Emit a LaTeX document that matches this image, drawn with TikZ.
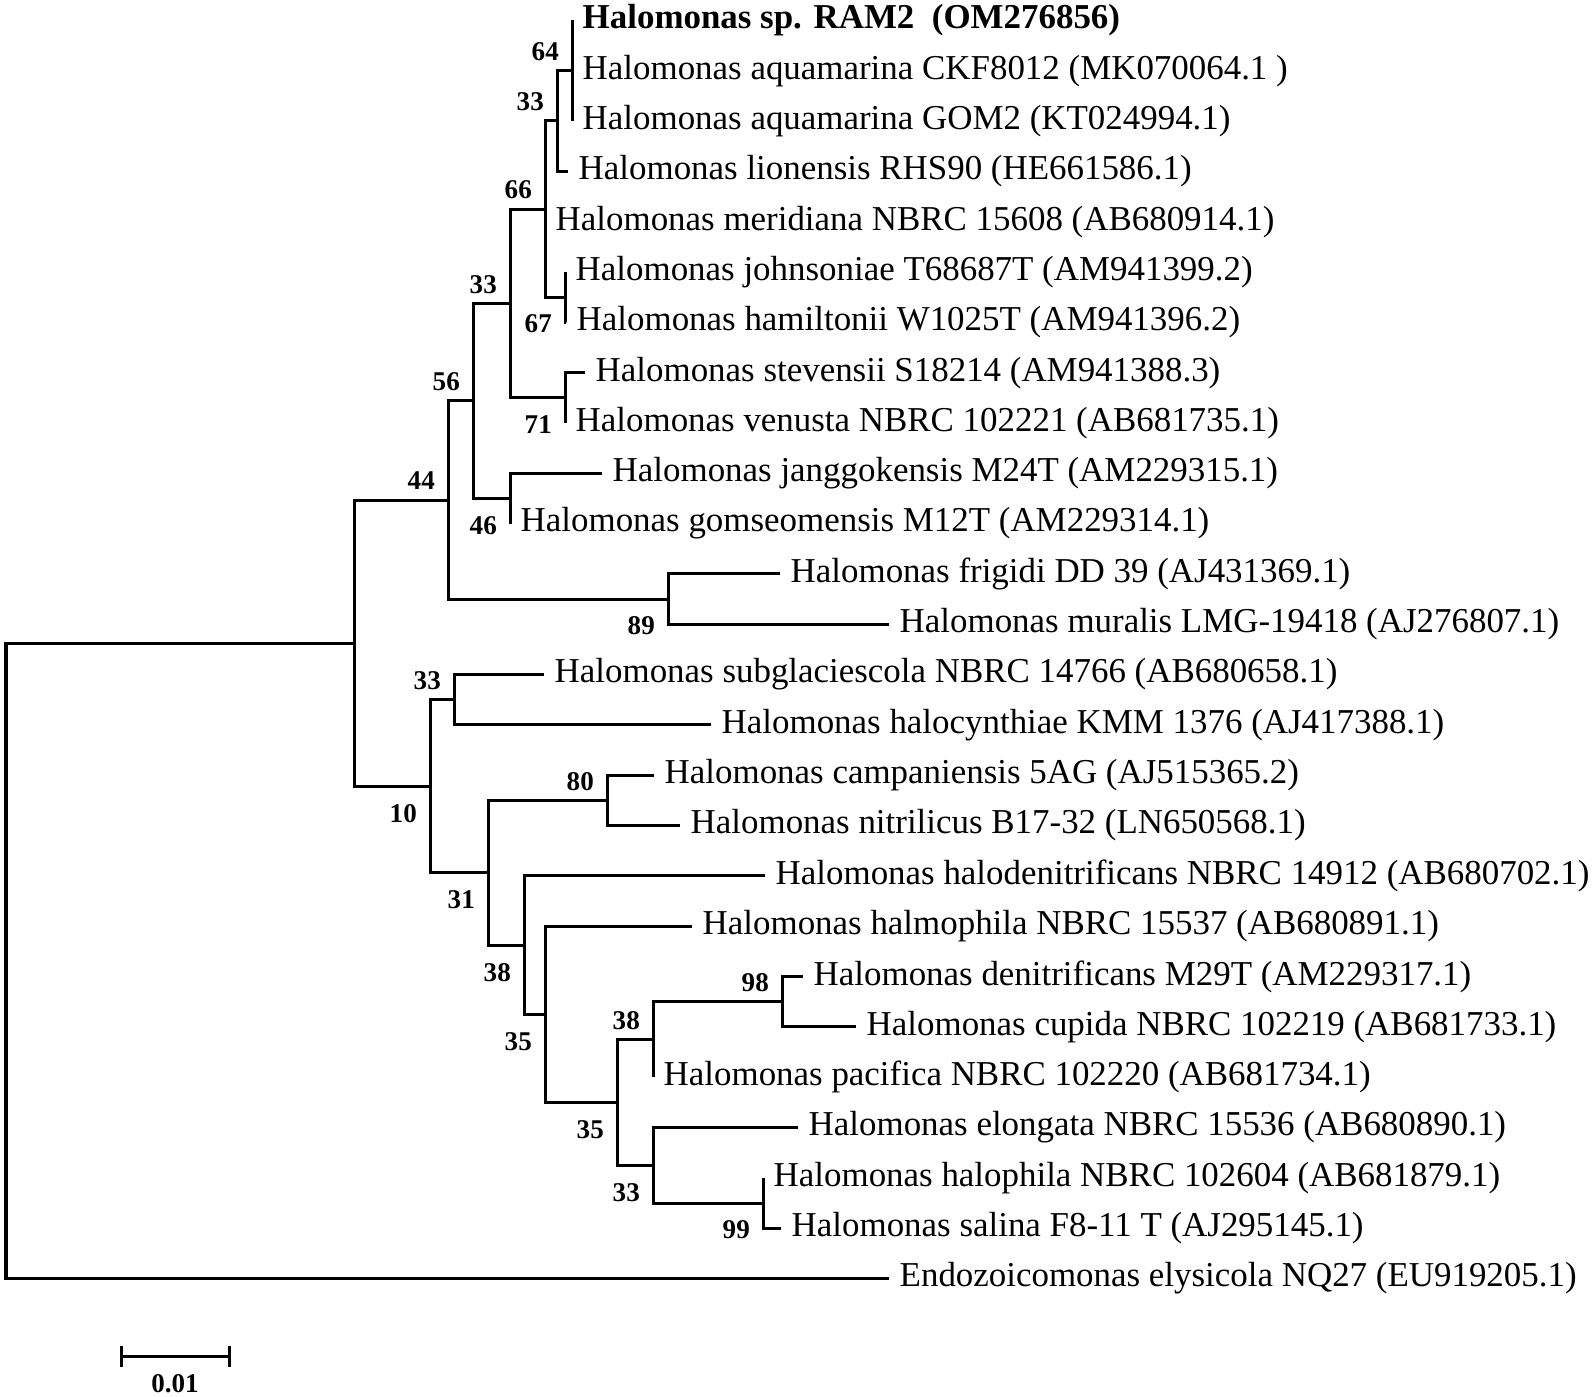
\documentclass[tikz,border=0pt]{standalone}
\usepackage{fontspec}
\setmainfont{Liberation Serif}
\usetikzlibrary{positioning}

\begin{document}
\begin{tikzpicture}[x=0.01cm,y=-0.503cm,
  ast/.style={line width=0.03cm},
  leaf/.style={anchor=west,inner xsep=0.1cm,inner ysep=0pt,font=\fontsize{9.93}{12}\selectfont},
  bslabel/.style={inner sep=0pt,font=\fontsize{7.7}{9}\selectfont\bfseries},
  bsup/.style={bslabel,anchor=east,xshift=-0.125cm,yshift=0.19cm},
  bsdown/.style={bslabel,anchor=east,xshift=-0.125cm,yshift=-0.27cm}]

% Rahmen
\useasboundingbox (0,-0.4036) rectangle (1593,27.35);

% ------------------- Blaetter -------------------
\foreach \n/\tip/\txt [count=\i from 0] in {
  ram2/572/{\bfseries Halomonas sp. RAM2\ \ (OM276856)},
  ckf/572/Halomonas aquamarina CKF8012 (MK070064.1 ),
  gom/572/Halomonas aquamarina GOM2 (KT024994.1),
  lion/568/Halomonas lionensis RHS90 (HE661586.1),
  meri/545/Halomonas meridiana NBRC 15608 (AB680914.1),
  john/565/Halomonas johnsoniae T68687T (AM941399.2),
  hami/566/Halomonas hamiltonii W1025T (AM941396.2),
  stev/585/Halomonas stevensii S18214 (AM941388.3),
  venu/565/Halomonas venusta NBRC 102221 (AB681735.1),
  jang/602/Halomonas janggokensis M24T (AM229315.1),
  goms/510/Halomonas gomseomensis M12T (AM229314.1),
  frig/780/Halomonas frigidi DD 39 (AJ431369.1),
  mura/889/Halomonas muralis LMG-19418 (AJ276807.1),
  subg/544/Halomonas subglaciescola NBRC 14766 (AB680658.1),
  halc/711/Halomonas halocynthiae KMM 1376 (AJ417388.1),
  camp/654/Halomonas campaniensis 5AG (AJ515365.2),
  nitr/680/Halomonas nitrilicus B17-32 (LN650568.1),
  hden/765/Halomonas halodenitrificans NBRC 14912 (AB680702.1),
  halm/692/Halomonas halmophila NBRC 15537 (AB680891.1),
  deni/803/Halomonas denitrificans M29T (AM229317.1),
  cupi/856/Halomonas cupida NBRC 102219 (AB681733.1),
  paci/653/Halomonas pacifica NBRC 102220 (AB681734.1),
  elon/798/Halomonas elongata NBRC 15536 (AB680890.1),
  haph/763/Halomonas halophila NBRC 102604 (AB681879.1),
  sali/781/Halomonas salina F8-11 T (AJ295145.1),
  endo/889/Endozoicomonas elysicola NQ27 (EU919205.1)}
  \node[leaf] (\n) at (\tip,\i) {\txt};

% ------------------- Innere Knoten -------------------
\coordinate (root) at (6,18.6875);
\coordinate (nA)   at (354,12.375);
\coordinate (n44)  at (448,9.53125);
\coordinate (n56)  at (473,7.5625);
\coordinate (n33b) at (510,5.625);
\coordinate (n66)  at (545,3.75);
\coordinate (n33a) at (557,2);
\coordinate (n64)  at (572,1);
\coordinate (n67)  at (565,5.5);
\coordinate (n71)  at (565,7.5);
\coordinate (n46)  at (510,9.5);
\coordinate (n89)  at (668,11.5);
\coordinate (n10)  at (430,15.21875);
\coordinate (n33c) at (454,13.5);
\coordinate (n31)  at (488,16.9375);
\coordinate (n80)  at (607,15.5);
\coordinate (n38a) at (524,18.375);
\coordinate (n35a) at (545,19.75);
\coordinate (n35b) at (617,21.5);
\coordinate (n38b) at (653,20.25);
\coordinate (n98)  at (782,19.5);
\coordinate (n33d) at (653,22.75);
\coordinate (n99)  at (763,23.5);

% ------------------- Aeste -------------------
\foreach \p/\c in {root/nA,nA/n44,nA/n10,n44/n56,n44/n89,n56/n33b,n56/n46,
    n33b/n66,n33b/n71,n66/n33a,n66/n67,n33a/n64,n10/n33c,n10/n31,n31/n80,
    n31/n38a,n38a/n35a,n35a/n35b,n35b/n38b,n35b/n33d,n38b/n98,n33d/n99}
  \draw[ast] (\p) |- (\c);

\foreach \p/\c in {n64/ram2,n64/ckf,n64/gom,n33a/lion,n66/meri,n67/john,
    n67/hami,n71/stev,n71/venu,n46/jang,n46/goms,n89/frig,n89/mura,
    n33c/subg,n33c/halc,n80/camp,n80/nitr,n38a/hden,n35a/halm,n98/deni,
    n98/cupi,n38b/paci,n33d/elon,n99/haph,n99/sali,root/endo}
  \draw[ast] (\p) |- (\c.west);

% ------------------- Bootstrap-Werte -------------------
\foreach \n/\v/\s in {n64/64/up,n33a/33/up,n66/66/up,n33b/33/up,n67/67/down,
    n71/71/down,n56/56/up,n46/46/down,n44/44/up,n89/89/down,n33c/33/up,
    n10/10/down,n80/80/up,n31/31/down,n38a/38/down,n35a/35/down,
    n38b/38/up,n98/98/up,n35b/35/down,n33d/33/down,n99/99/down}
  \node[bs\s] (l\n) at (\n) {\v};

% ------------------- Massstab -------------------
\coordinate (sbl) at (121,26.554);
\coordinate (sbr) at (229,26.554);
\coordinate (sbmid) at (175,26.554);
\draw[ast] (sbl) -- (sbr);
\draw[ast] ([yshift=0.105cm]sbl) -- ([yshift=-0.105cm]sbl);
\draw[ast] ([yshift=0.105cm]sbr) -- ([yshift=-0.105cm]sbr);
\node[bslabel,below=0.17cm of sbmid] (sbtext) {0.01};

\end{tikzpicture}
\end{document}
